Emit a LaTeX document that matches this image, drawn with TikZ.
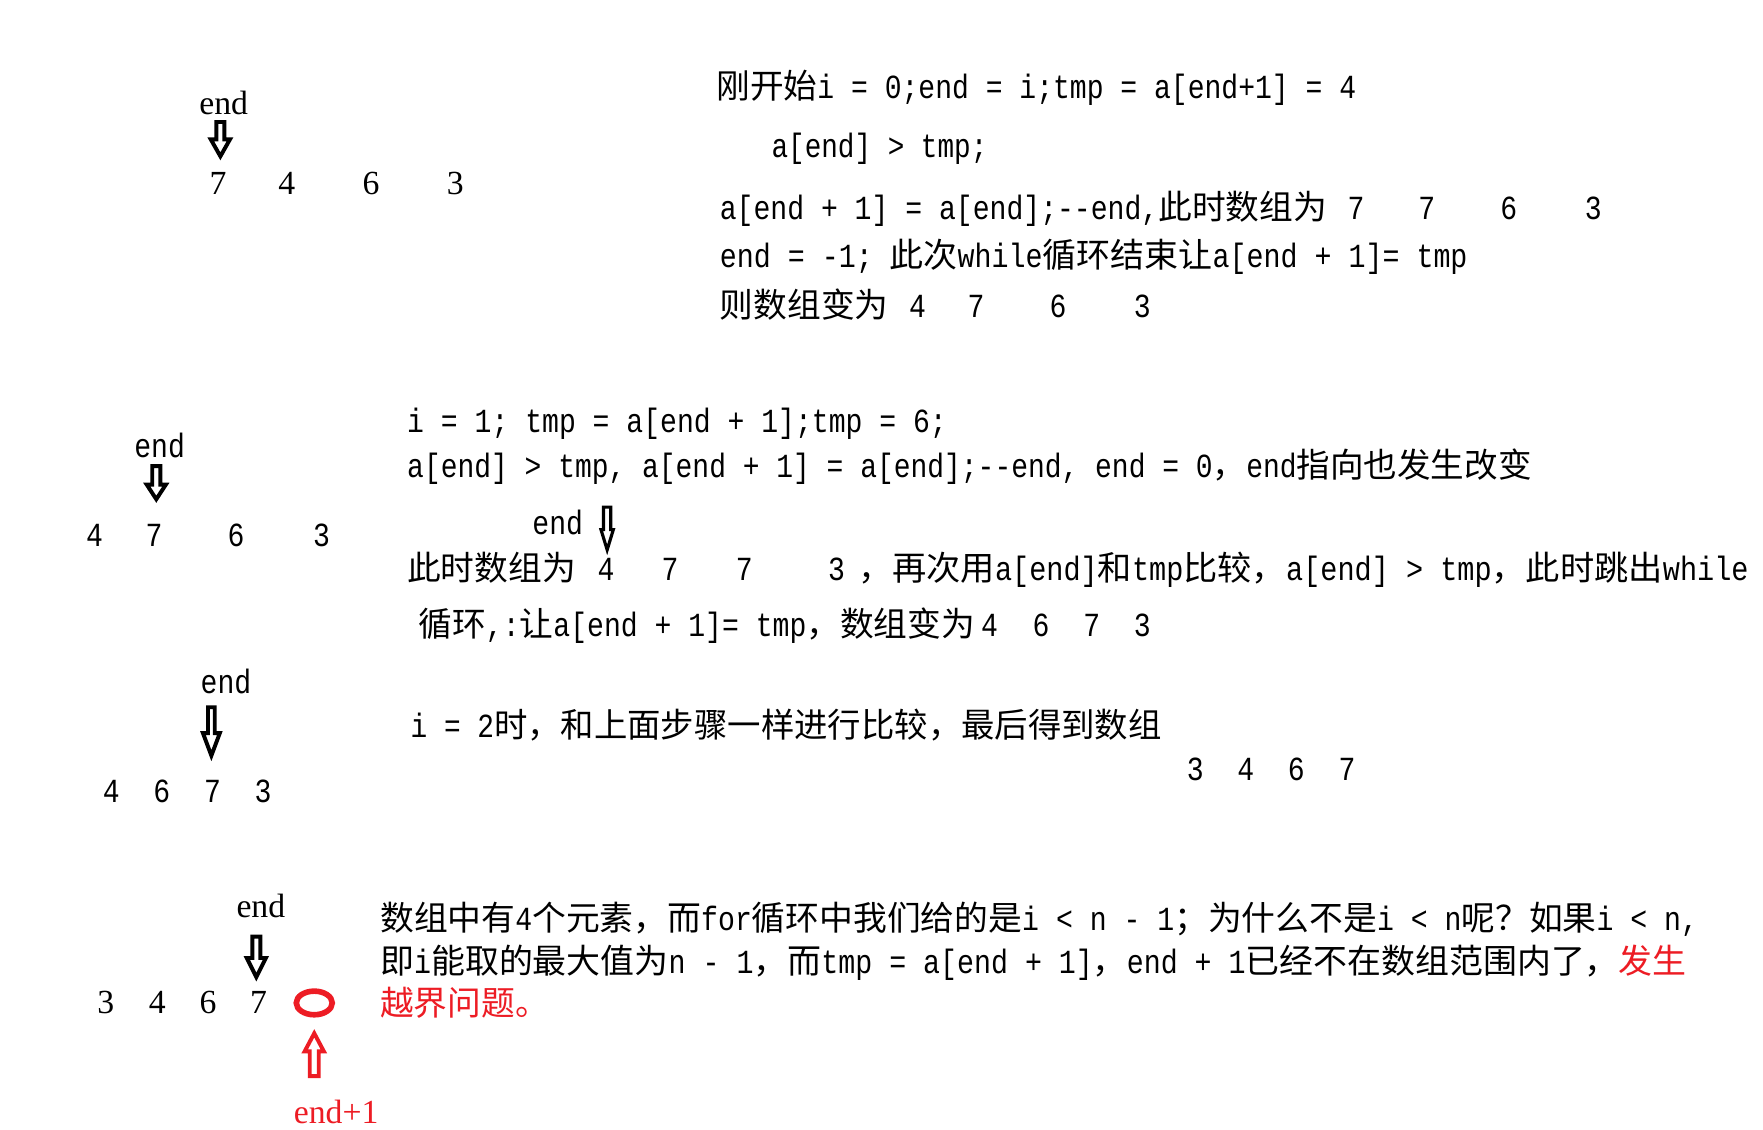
\documentclass[tikz,border=0pt]{standalone}
\usepackage{fontspec}
\usepackage{graphicx}
\setmainfont{Noto Sans CJK SC}
\newfontfamily\lat[FakeStretch=0.8333]{Liberation Mono}
\newfontfamily\ser{Liberation Serif}
\definecolor{pred}{RGB}{237,28,36}
\newcommand\la[1]{{\lat #1}}
\newlength\fitlen
\newcommand\fitw[2]{\settowidth\fitlen{#2}\pgfmathsetmacro\fitr{#1/\fitlen}\scalebox{\fitr}[1]{#2}}
\newcommand\blockarrow[7]{%
  \draw[#7] ({#1-#5},#2) -- ({#1+#5},#2) -- ({#1+#5},#3) -- ({#1+#6},#3) -- (#1,#4) -- ({#1-#6},#3) -- ({#1-#5},#3) -- cycle;}
\tikzset{
  txt/.style={anchor=base west, inner sep=0pt, font=\fontsize{30}{36}\selectfont},
  mnum/.style={anchor=base, inner sep=0pt, font=\lat\fontsize{30}{36}\selectfont},
  snum/.style={anchor=base, inner sep=0pt, font=\ser\fontsize{30}{36}\selectfont},
  ptr/.style={draw=black, line width=3.5pt, line join=miter, fill=white},
  thinptr/.style={draw=black, line width=2.8pt, line join=miter, fill=white},
  redptr/.style={draw=pred, line width=3.5pt, line join=miter, fill=white},
}
\begin{document}
\begin{tikzpicture}[x=1pt, y=-1pt]
\useasboundingbox[fill=white] (0,0) rectangle (1568,1005);

% ---------- block 1 ----------
\node[snum] (e1) at (199,102) {end};
\blockarrow{196}{108.5}{124}{139}{3.6}{8.5}{ptr}
\node[snum] (a1) at (194,173) {7};
\node[snum] (a2) at (255,173) {4};
\node[snum] (a3) at (330,173) {6};
\node[snum] (a4) at (405,173) {3};

\node[txt] (t1a) at (637,88) {\fitw{569}{刚开始\la{i = 0;end = i;tmp = a[end+1] = 4}}};
\node[txt] (t1b) at (686,140) {\fitw{192}{\la{a[end] > tmp;}}};
\node[txt] (t1c) at (640,195) {\la{a[end + 1] = a[end];--end,}此时数组为};
\node[mnum] (n1c1) at (1206,195) {7};
\node[mnum] (n1c2) at (1269,195) {7};
\node[mnum] (n1c3) at (1342,195) {6};
\node[mnum] (n1c4) at (1417,195) {3};
\node[txt] (t1d) at (640,238) {\fitw{665}{\la{end = -1; }此次\la{while}循环结束让\la{a[end + 1]= tmp}}};
\node[txt] (t1e) at (640,282) {则数组变为};
\node[mnum] (n1e1) at (816,282) {4};
\node[mnum] (n1e2) at (868,282) {7};
\node[mnum] (n1e3) at (941,282) {6};
\node[mnum] (n1e4) at (1016,282) {3};

% ---------- block 2 ----------
\node[mnum] (e2) at (142,407) {end};
\blockarrow{139}{414.5}{431}{444}{3.6}{8.5}{ptr}
\node[mnum] (b1) at (84,486) {4};
\node[mnum] (b2) at (137,486) {7};
\node[mnum] (b3) at (210,486) {6};
\node[mnum] (b4) at (286,486) {3};

\node[txt] (t2a) at (362,385) {\fitw{480}{\la{i = 1; tmp = a[end + 1];tmp = 6;}}};
\node[txt] (t2b) at (362,425) {\fitw{1000}{\la{a[end] > tmp, a[end + 1] = a[end];--end, end = 0}，\la{end}指向也发生改变}};
\node[mnum] (e2b) at (496,475) {end};
\blockarrow{540}{451}{471}{489}{3.2}{5.5}{thinptr}
\node[txt] (t2c) at (362,516) {此时数组为};
\node[mnum] (n2c1) at (539,516) {4};
\node[mnum] (n2c2) at (596,516) {7};
\node[mnum] (n2c3) at (662,516) {7};
\node[mnum] (n2c4) at (744,516) {3};
\node[txt] (t2c2) at (763,516) {\fitw{792}{，再次用\la{a[end]}和\la{tmp}比较，\la{a[end] > tmp}，此时跳出\la{while}}};
\node[txt] (t2d) at (372,566) {循环\la{,:}让\la{a[end + 1]= tmp}，数组变为};
\node[mnum] (n2d1) at (880,566) {4};
\node[mnum] (n2d2) at (926,566) {6};
\node[mnum] (n2d3) at (971,566) {7};
\node[mnum] (n2d4) at (1016,566) {3};

% ---------- block 3 ----------
\node[mnum] (e3) at (201,617) {end};
\blockarrow{188}{629}{652}{672}{3}{7.5}{ptr}
\node[mnum] (c1) at (99,714) {4};
\node[mnum] (c2) at (144,714) {6};
\node[mnum] (c3) at (189,714) {7};
\node[mnum] (c4) at (234,714) {3};
\node[txt] (t3a) at (365,656) {\fitw{668}{\la{i = 2}时，和上面步骤一样进行比较，最后得到数组}};
\node[mnum] (n3a1) at (1063,694) {3};
\node[mnum] (n3a2) at (1108,694) {4};
\node[mnum] (n3a3) at (1153,694) {6};
\node[mnum] (n3a4) at (1198,694) {7};

% ---------- block 4 ----------
\node[snum] (e4) at (232,816) {end};
\blockarrow{228}{833}{852}{869}{3.6}{8.5}{ptr}
\node[snum] (d1) at (94,901) {3};
\node[snum] (d2) at (140,901) {4};
\node[snum] (d3) at (185,901) {6};
\node[snum] (d4) at (230,901) {7};
\draw[pred, line width=5pt] (279.5,892) ellipse [x radius=16, y radius=10.5];
\blockarrow{279.5}{957}{935}{919}{4}{8.5}{redptr}
\node[snum, text=pred] (e4r) at (299,999) {end+1};

\node[txt] (t4a) at (338,828) {\fitw{1172}{数组中有\la{4}个元素，而\la{for}循环中我们给的是\la{i < n - 1}；为什么不是\la{i < n}呢？如果\la{i < n,}}};
\node[txt] (t4b) at (338,866) {\fitw{1162}{即\la{i}能取的最大值为\la{n - 1}，而\la{tmp = a[end + 1]}，\la{end + 1}已经不在数组范围内了，\textcolor{pred}{发生}}};
\node[txt, text=pred] (t4c) at (338,903) {越界问题。};
\end{tikzpicture}
\end{document}
